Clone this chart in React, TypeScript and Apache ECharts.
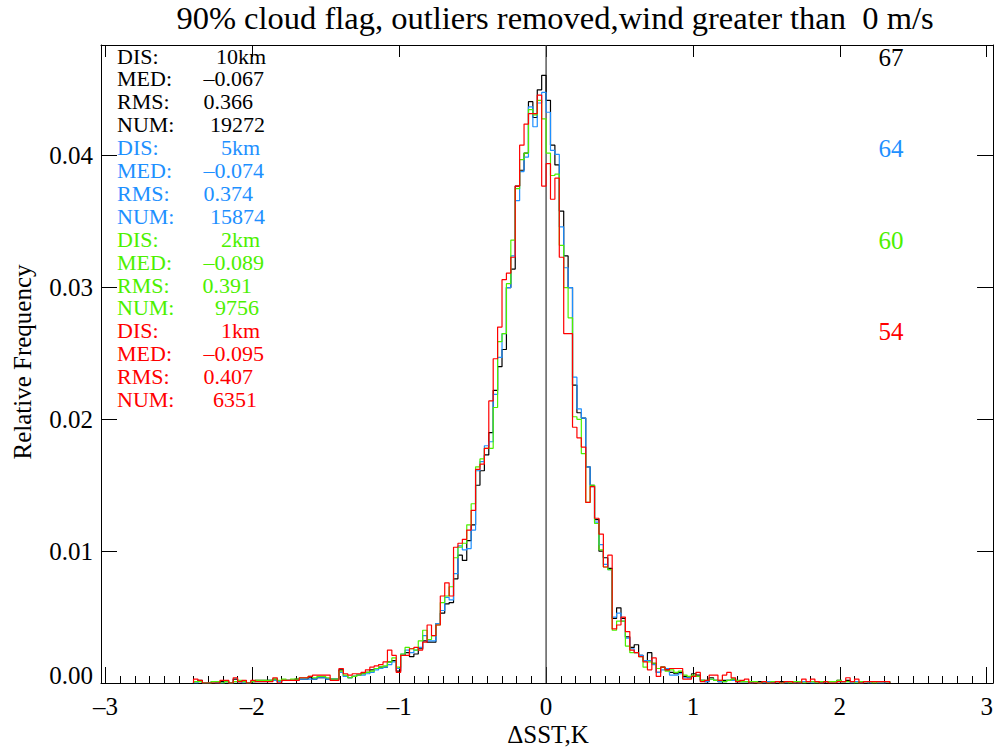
import React, { useEffect, useRef } from 'react';
import * as echarts from 'echarts';

// Histogram bins: left edge of first bin and bin width (K)
const BIN_START = -2.4;
const BIN_WIDTH = 0.03;

// Relative frequency per bin, in units of 1e-4 (bins from -2.40 to 2.34)
const freq10km = [
  1, 2, 0, 0, 1, 0, 1, 1, 0, 3, 1, 1, 0, 1, 2, 2, 2, 2, 3, 1, 2, 2, 2, 3,
  3, 3, 4, 3, 4, 4, 3, 3, 3,
  10, 5, 4, 5, 6, 7, 8, 10, 11, 12, 12, 16, 17,
  9, 21, 23, 20, 22, 26, 32, 31, 31, 45, 53, 60, 61, 79, 97, 93, 108, 120, 150, 161, 173, 190, 222, 240, 253, 300, 314, 377, 389, 402, 441, 429, 450, 461,
  442, 408, 393, 358, 324, 300, 226, 205, 201, 164, 150, 124, 100, 95, 87, 49, 57, 49, 35, 27, 29, 21, 17, 23, 15, 8, 12, 10, 8, 7, 8, 5, 4, 7, 6, 2, 1, 4, 2, 1, 2,
  2, 3, 1, 1, 1, 0, 1, 1, 0, 1, 0, 1, 1, 0, 1, 1, 0, 1, 1, 1, 1, 0, 1, 1, 1, 2, 1, 2, 1, 1, 0, 1, 1, 1, 1, 1, 1,
];
const freq5km = [
  0, 1, 0, 0, 1, 0, 0, 1, 0, 1, 1, 0, 0, 1, 1, 1, 1, 2, 2, 1, 2, 2, 2, 2,
  3, 3, 3, 3, 4, 4, 3, 3, 3,
  8, 5, 4, 5, 6, 6, 7, 8, 10, 11, 12, 14, 16,
  11, 22, 25, 23, 25, 27, 36, 32, 32, 45, 55, 65, 63, 83, 104, 101, 102, 116, 161, 168, 180, 183, 219, 247, 265, 300, 324, 366, 388, 399, 437, 422, 440, 448,
  433, 404, 401, 346, 315, 300, 232, 208, 201, 164, 149, 122, 105, 90, 86, 50, 53, 47, 34, 26, 23, 21, 17, 17, 14, 8, 10, 11, 6, 6, 7, 4, 4, 5, 5, 2, 1, 3, 2, 1, 1,
  2, 2, 1, 1, 1, 0, 1, 0, 0, 1, 0, 1, 0, 0, 1, 0, 0, 1, 1, 0, 1, 0, 1, 1, 1, 1, 1, 1, 0, 1, 0, 1, 0, 1, 0, 0, 1,
];
const freq2km = [
  1, 1, 0, 0, 1, 1, 0, 1, 0, 1, 2, 1, 0, 1, 2, 2, 2, 2, 3, 2, 3, 2, 3, 3,
  4, 4, 5, 4, 5, 5, 4, 3, 3,
  9, 6, 4, 5, 6, 7, 8, 9, 11, 12, 13, 16, 19,
  12, 22, 27, 26, 25, 32, 40, 33, 36, 44, 61, 66, 73, 95, 103, 106, 120, 136, 164, 170, 178, 178, 209, 259, 265, 303, 336, 375, 397, 402, 435, 431, 442, 428,
  402, 385, 386, 332, 300, 277, 202, 200, 174, 137, 150, 121, 101, 88, 86, 40, 47, 47, 28, 23, 23, 20, 12, 16, 15, 11, 12, 9, 10, 8, 9, 6, 5, 6, 5, 2, 2, 3, 2, 2, 1,
  2, 3, 2, 1, 1, 1, 1, 0, 1, 0, 1, 1, 0, 1, 0, 1, 1, 0, 1, 1, 0, 1, 1, 1, 1, 2, 1, 1, 1, 0, 1, 1, 1, 0, 1, 1, 1,
];
const freq1km = [
  3, 2, 0, 0, 0, 0, 2, 2, 0, 4, 1, 2, 0, 2, 1, 1, 1, 1, 4, 0, 2, 2, 2, 2,
  4, 4, 5, 6, 6, 6, 6, 2, 2,
  11, 7, 6, 7, 7, 8, 10, 12, 13, 14, 16, 25, 21,
  8, 21, 21, 26, 27, 25, 31, 44, 36, 44, 66, 76, 66, 103, 106, 109, 116, 131, 162, 166, 178, 214, 246, 270, 306, 311, 323, 377, 408, 424, 432, 432, 446, 377,
  394, 367, 383, 323, 265, 265, 194, 186, 179, 137, 149, 125, 113, 88, 97, 41, 44, 50, 39, 25, 23, 20, 16, 10, 19, 5, 12, 10, 11, 11, 11, 3, 3, 5, 8, 1, 2, 6, 6, 2, 6,
  8, 4, 1, 2, 3, 0, 0, 0, 1, 0, 0, 1, 0, 1, 1, 0, 0, 3, 1, 3, 1, 0, 1, 0, 0, 1, 1, 4, 1, 3, 0, 1, 1, 1, 1, 1, 1,
];

// Stats shown in the upper-left block
const DIS_KM = [10, 5, 2, 1];
const MED = ['–0.067', '–0.074', '–0.089', '–0.095'];
const RMS = ['0.366', '0.374', '0.391', '0.407'];
const NUM = ['19272', '15874', '9756', '6351'];
const RIGHT_COUNTS = ['67', '64', '60', '54'];
const COLORS = ['#000000', '#1e90ff', '#4cf000', '#ff0000'];
const SERIES = [freq10km, freq5km, freq2km, freq1km];

const X_MAJOR = [-3, -2, -1, 0, 1, 2, 3];
const Y_TICKS = [0, 0.01, 0.02, 0.03, 0.04];

const TITLE = '90% cloud flag, outliers removed,wind greater than  0 m/s';
const FONT = '"Liberation Serif", "Times New Roman", serif';

function stepData(vals: number[]) {
  const pts: [number, number][] = [];
  const edge = (i: number) => Math.round((BIN_START + i * BIN_WIDTH) * 1000) / 1000;
  pts.push([edge(0), 0]);
  vals.forEach((v, i) => pts.push([edge(i), v / 10000]));
  pts.push([edge(vals.length), vals[vals.length - 1] / 10000]);
  pts.push([edge(vals.length), 0]);
  return pts;
}

export default function App() {
  const ref = useRef<HTMLDivElement>(null);
  useEffect(() => {
    document.body.style.margin = '0';
    const chart = echarts.init(ref.current!, undefined, { renderer: 'svg' });
    const minor: number[] = [];
    for (let i = -30; i <= 30; i++) if (i % 10 !== 0) minor.push(i / 10);
    const lab = (v: number) => String(v).replace('-', '–');

    const LINE = 22.9;
    const FS = 22;
    const legendTexts: any[] = [];
    // right ends of value fields (pixels) for DIS, MED, RMS, NUM rows
    const valEnd = [
      [266, 264, 253, 265],
      [260, 264, 253, 265],
      [260, 264, 252, 259],
      [260, 264, 253, 257],
    ];
    const txt = (text: string, x: number, y: number, fill: string, align = 'left', fs = FS) => ({
      type: 'text', x, y,
      style: { text, fill, fontSize: fs, lineHeight: 22, fontFamily: FONT, align, verticalAlign: 'middle' },
    });
    DIS_KM.forEach((d, s) => {
      const rows = [
        ['DIS:', d + 'km'],
        ['MED:', MED[s]],
        ['RMS:', RMS[s]],
        ['NUM:', NUM[s]],
      ];
      rows.forEach((r, j) => {
        const y = 56 + LINE * (s * 4 + j);
        legendTexts.push(txt(r[0], 117, y, COLORS[s]));
        legendTexts.push(txt(r[1], valEnd[s][j], y, COLORS[s], 'right'));
      });
      legendTexts.push(txt(RIGHT_COUNTS[s], 891, 57 + 91.5 * s, COLORS[s], 'center', 25));
    });

    const option: any = {
      animation: false,
      backgroundColor: '#ffffff',
      grid: { left: 101, right: 1, top: 45, bottom: 64 },
      xAxis: [
        {
          type: 'value', position: 'bottom', min: -3.03, max: 3.043,
          axisLine: { show: true, onZero: false, lineStyle: { color: '#000', width: 1 } },
          axisTick: { show: true, inside: true, length: 16, customValues: X_MAJOR, lineStyle: { color: '#000' } },
          axisLabel: { show: true, customValues: X_MAJOR, formatter: lab, margin: 11, fontSize: 25, fontFamily: FONT, color: '#000' },
          splitLine: { show: false },
        },
        {
          type: 'value', position: 'bottom', min: -3.03, max: 3.043,
          axisLine: { show: false, onZero: false },
          axisTick: { show: true, inside: true, length: 7, customValues: minor, lineStyle: { color: '#000' } },
          axisLabel: { show: false },
          splitLine: { show: false },
        },
        {
          type: 'value', position: 'top', min: -3.03, max: 3.043,
          axisLine: { show: true, onZero: false, lineStyle: { color: '#000', width: 1 } },
          axisTick: { show: true, inside: true, length: 12, customValues: X_MAJOR, lineStyle: { color: '#000' } },
          axisLabel: { show: false },
          splitLine: { show: false },
        },
      ],
      yAxis: [
        {
          type: 'value', position: 'left', min: 0, max: 0.0484,
          axisLine: { show: true, onZero: false, lineStyle: { color: '#000', width: 1 } },
          axisTick: { show: true, inside: true, length: 16, customValues: Y_TICKS, lineStyle: { color: '#000' } },
          axisLabel: {
            show: true, customValues: Y_TICKS, margin: 8, fontSize: 25, fontFamily: FONT, color: '#000',
            formatter: (v: number) => (v === 0 ? '{lo|0.00}' : v.toFixed(2)),
            rich: { lo: { fontSize: 25, fontFamily: FONT, color: '#000', padding: [0, 0, 16, 0] } },
          },
          splitLine: { show: false },
        },
        {
          type: 'value', position: 'right', min: 0, max: 0.0484,
          axisLine: { show: true, onZero: false, lineStyle: { color: '#000', width: 1 } },
          axisTick: { show: true, inside: true, length: 16, customValues: Y_TICKS, lineStyle: { color: '#000' } },
          axisLabel: { show: false },
          splitLine: { show: false },
        },
      ],
      series: [
        {
          type: 'line', name: 'zero', data: [[0, 0], [0, 0.0484]], symbol: 'none',
          lineStyle: { color: '#333', width: 1.2 }, silent: true,
        },
        ...SERIES.map((vals, i) => ({
          type: 'line', name: DIS_KM[i] + 'km', data: stepData(vals), step: 'end', symbol: 'none',
          lineStyle: { color: COLORS[i], width: 1.2 }, silent: true,
        })),
      ],
      graphic: [
        {
          type: 'text', x: 555, y: 18,
          style: { text: TITLE, fill: '#000', fontSize: 32.5, fontFamily: FONT, align: 'center', verticalAlign: 'middle' },
        },
        {
          type: 'text', x: 22, y: 362, rotation: Math.PI / 2,
          style: { text: 'Relative Frequency', fill: '#000', fontSize: 25, fontFamily: FONT, align: 'center', verticalAlign: 'middle' },
        },
        {
          type: 'text', x: 548, y: 734,
          style: { text: 'ΔSST,K', fill: '#000', fontSize: 25, fontFamily: FONT, align: 'center', verticalAlign: 'middle' },
        },
        ...legendTexts,
      ],
    };
    chart.setOption(option);
    return () => chart.dispose();
  }, []);
  return <div ref={ref} style={{ position: 'fixed', left: 0, top: 0, width: 996, height: 747, background: '#fff' }} />;
}
